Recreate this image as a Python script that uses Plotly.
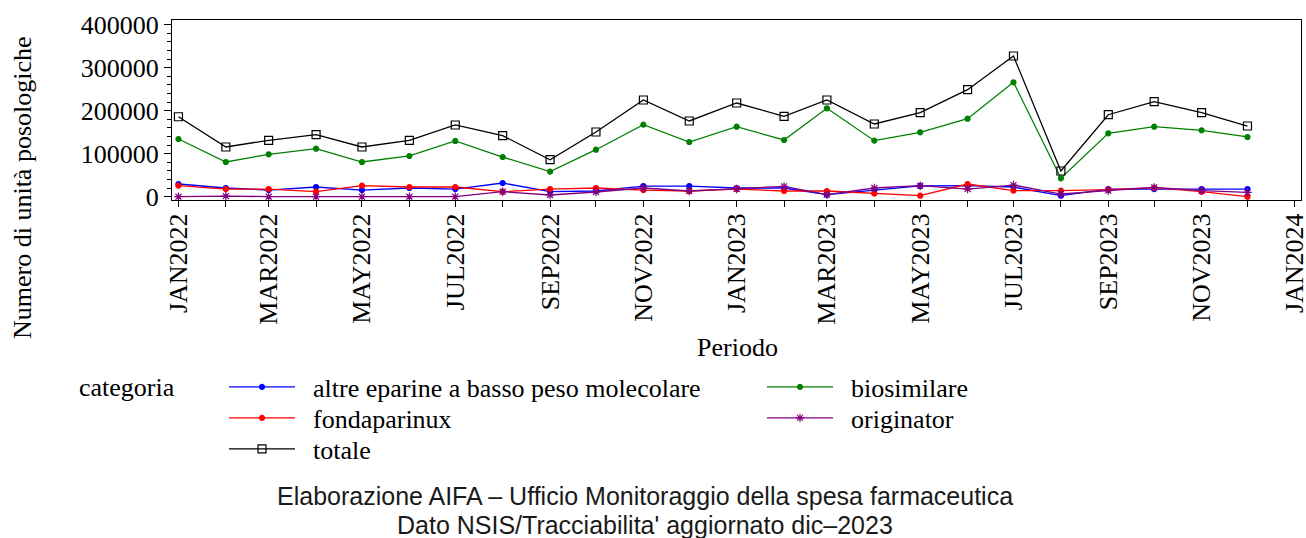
import plotly.graph_objects as go

periodo = ["2022-01-01", "2022-02-01", "2022-03-01", "2022-04-01", "2022-05-01", "2022-06-01",
           "2022-07-01", "2022-08-01", "2022-09-01", "2022-10-01", "2022-11-01", "2022-12-01",
           "2023-01-01", "2023-02-01", "2023-03-01", "2023-04-01", "2023-05-01", "2023-06-01",
           "2023-07-01", "2023-08-01", "2023-09-01", "2023-10-01", "2023-11-01", "2023-12-01"]

altre_eparine = [29500, 20200, 15500, 22500, 15500, 20200, 17800, 31800, 11600, 13200, 24800, 24800,
                 20200, 20200, 4650, 15500, 25000, 25600, 22500, 2300, 17800, 17800, 17800, 17800]
biosimilare = [134200, 80700, 98600, 111600, 80700, 94700, 129600, 92300, 58200, 109300, 167500, 127200,
               162800, 131900, 205600, 130300, 149800, 181400, 266100, 42800, 147500, 162800, 154400, 138900]
fondaparinux = [25600, 17800, 17800, 11600, 25600, 22500, 22500, 11600, 17800, 20200, 15500, 13200,
                17800, 13200, 13200, 7000, 2300, 29500, 14000, 14000, 16300, 20900, 11600, 0]
originator = [0, 1500, 0, 0, 0, 0, 0, 11600, 3900, 10900, 20200, 13200,
              17800, 24000, 4650, 20200, 25600, 17800, 27100, 6200, 14000, 21700, 14000, 10100]
totale = [186000, 115600, 131200, 144200, 115600, 131200, 166800, 141900, 86000, 150500, 224900, 176100,
          217900, 187000, 224900, 169100, 195400, 248900, 327300, 59800, 190700, 221000, 195400, 164400]

tick_vals = ["2022-01-01", "2022-03-01", "2022-05-01", "2022-07-01", "2022-09-01", "2022-11-01",
             "2023-01-01", "2023-03-01", "2023-05-01", "2023-07-01", "2023-09-01", "2023-11-01", "2024-01-01"]
tick_text = ["JAN2022", "MAR2022", "MAY2022", "JUL2022", "SEP2022", "NOV2022",
             "JAN2023", "MAR2023", "MAY2023", "JUL2023", "SEP2023", "NOV2023", "JAN2024"]

SERIF = "Liberation Serif"
FOOT = "Liberation Sans"
W, H = 1306, 538
PL, PR, PT, PB = 172, 1301, 20, 200  # plot box in pixels
NB = "\u00a0\u00a0"

# (name, values, colour, symbol, size, legend id, legend left px, legend row centre px)
series = [
    ("altre eparine a basso peso molecolare", altre_eparine, "#0000FF", "circle", 5, "legend", 224, 387),
    ("biosimilare", biosimilare, "#008000", "circle", 5, "legend2", 762, 387),
    ("fondaparinux", fondaparinux, "#FF0000", "circle", 5, "legend3", 224, 418),
    ("originator", originator, "#800080", "asterisk-open", 7, "legend4", 762, 418),
    ("totale", totale, "#000000", "square-open", 8, "legend5", 224, 449),
]

fig = go.Figure()
legends = {}
for name, vals, color, sym, size, lid, lx, ly in series:
    fig.add_trace(go.Scatter(
        x=periodo, y=vals, name=NB + name, mode="lines+markers", legend=lid,
        line=dict(color=color, width=1.3),
        marker=dict(color=color, symbol=sym, size=size, line=dict(color=color, width=1.2)),
    ))
    legends[lid] = dict(
        orientation="v", xref="container", yref="container",
        x=lx / W, xanchor="left", y=1 - ly / H, yanchor="middle",
        font=dict(family=SERIF, size=26, color="black"),
        itemwidth=66, bgcolor="rgba(0,0,0,0)", borderwidth=0,
    )

def px_x(p):
    return (p - PL) / (PR - PL)

def px_y(p):
    return (PB - p) / (PB - PT)

fig.update_layout(
    template="none",
    width=W, height=H,
    margin=dict(l=PL, r=W - PR, t=PT, b=H - PB, pad=0, autoexpand=False),
    paper_bgcolor="white", plot_bgcolor="white",
    font=dict(family=SERIF, size=26, color="black"),
    showlegend=True,
    xaxis=dict(
        type="date", range=["2021-12-27 19:00", "2024-01-05"], automargin=False,
        tickvals=tick_vals, ticktext=tick_text, tickangle=-90, ticklabeloverflow="allow",
        ticklabelstandoff=-4,
        ticks="outside", ticklen=6, tickcolor="black", tickwidth=1,
        minor=dict(dtick="M1", tick0="2022-01-01", ticks="outside", ticklen=6, tickcolor="black", tickwidth=1),
        showline=True, linecolor="black", linewidth=1, mirror=True,
        showgrid=False, zeroline=False,
        tickfont=dict(family=SERIF, size=26, color="black"),
    ),
    yaxis=dict(
        range=[-7700, 411000], tickvals=[0, 100000, 200000, 300000, 400000], tickformat="d",
        automargin=False,
        ticks="outside", ticklen=7, tickcolor="black", tickwidth=1,
        minor=dict(dtick=20000, tick0=0, ticks="outside", ticklen=4, tickcolor="black", tickwidth=1),
        showline=True, linecolor="black", linewidth=1, mirror=True,
        showgrid=False, zeroline=False,
        tickfont=dict(family=SERIF, size=26, color="black"),
    ),
    annotations=[
        dict(text="Numero di unità posologiche", xref="paper", yref="paper", x=px_x(22), y=px_y(188),
             xanchor="center", yanchor="middle", textangle=-90, showarrow=False,
             font=dict(family=SERIF, size=26, color="black")),
        dict(text="Periodo", xref="paper", yref="paper", x=px_x(737), y=px_y(347),
             xanchor="center", yanchor="middle", showarrow=False,
             font=dict(family=SERIF, size=26, color="black")),
        dict(text="categoria", xref="paper", yref="paper", x=px_x(77), y=px_y(387),
             xanchor="left", yanchor="middle", showarrow=False,
             font=dict(family=SERIF, size=26, color="black")),
        dict(text="Elaborazione AIFA – Ufficio Monitoraggio della spesa farmaceutica",
             xref="paper", yref="paper", x=px_x(645), y=px_y(496), xanchor="center", yanchor="middle",
             showarrow=False, font=dict(family=FOOT, size=25, color="#1a1a1a")),
        dict(text="Dato NSIS/Tracciabilita' aggiornato dic–2023",
             xref="paper", yref="paper", x=px_x(645), y=px_y(524.5), xanchor="center", yanchor="middle",
             showarrow=False, font=dict(family=FOOT, size=25, color="#1a1a1a")),
    ],
    **legends,
)

fig.write_html(
    "out.html",
    config={"displayModeBar": False},
    post_script="document.body.style.margin='0px';document.body.style.padding='0px';"
                "document.body.style.overflow='hidden';",
)
